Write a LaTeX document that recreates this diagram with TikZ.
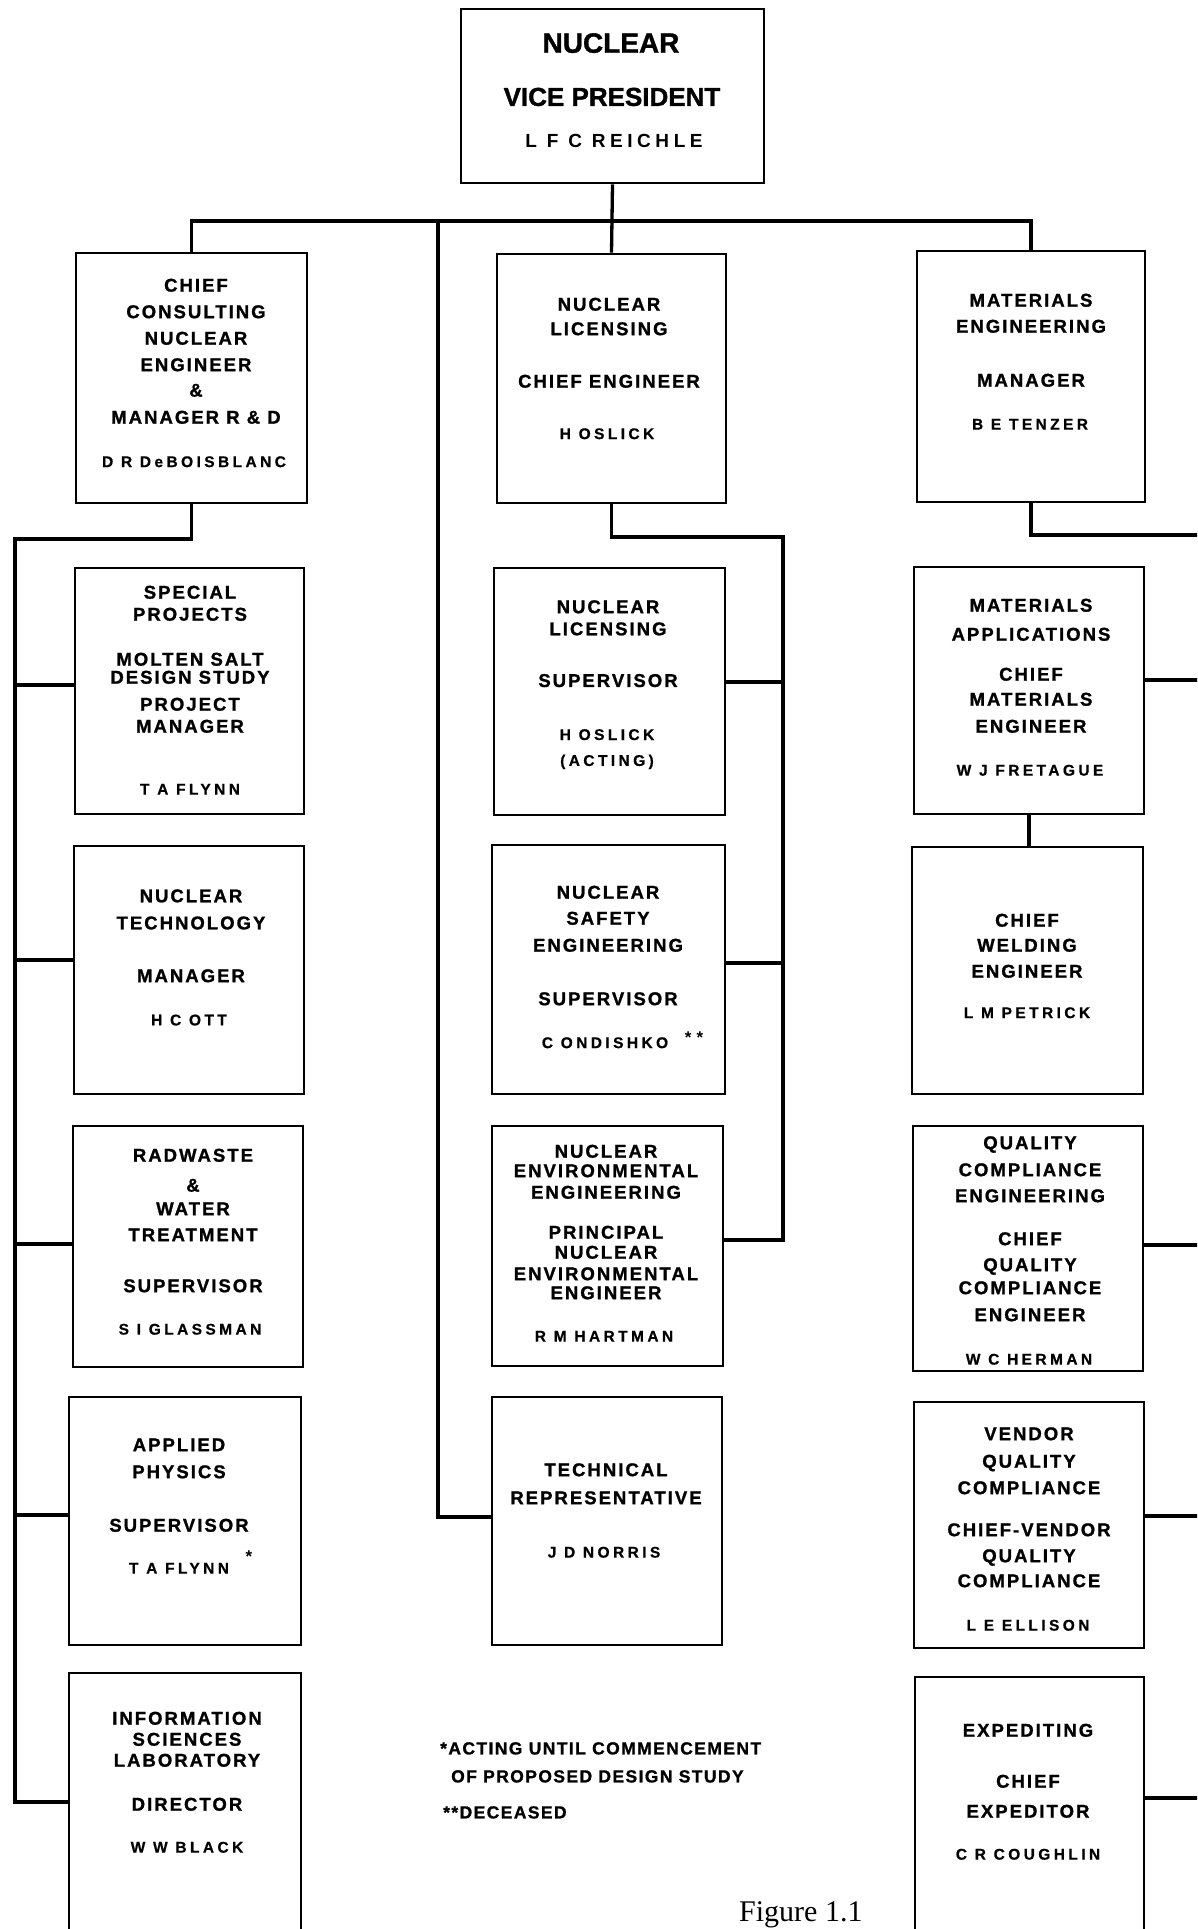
\documentclass[tikz,border=0pt]{standalone}
\usepackage{fontspec}
\setmainfont{Liberation Sans}
\newfontfamily\ttlfam{Liberation Sans}[LetterSpace=11, BoldFeatures={FakeBold=1.2}]
\newfontfamily\nmfam{Liberation Sans}[LetterSpace=22, BoldFeatures={FakeBold=0.6}]
\newfontfamily\ftfam{Liberation Sans}[LetterSpace=8, BoldFeatures={FakeBold=1.0}]
\newfontfamily\vpfam{Liberation Sans}[LetterSpace=24]
\newfontfamily\vpbfam{Liberation Sans}[BoldFeatures={FakeBold=1.2}]
\newfontfamily\figfam{Liberation Serif}
\usetikzlibrary{fit}
\tikzset{
  box/.style={draw, line width=2.7pt, inner sep=0pt},
  conn/.style={line width=3.3pt, line join=miter},
  ttl/.style={font=\ttlfam\bfseries\fontsize{18.5}{22}\selectfont, inner sep=0pt, text height=13.3pt, text depth=0pt},
  nm/.style={font=\nmfam\bfseries\fontsize{15.5}{18}\selectfont, inner sep=0pt, text height=11.2pt, text depth=0pt},
  astr/.style={font=\bfseries\fontsize{17}{20}\selectfont, inner sep=0pt},
  foot/.style={font=\ftfam\bfseries\fontsize{17.5}{20}\selectfont, inner sep=0pt, anchor=west, text height=12.8pt, text depth=0pt},
  vpa/.style={font=\vpbfam\bfseries\fontsize{28}{32}\selectfont, inner sep=0pt, text height=20.5pt, text depth=0pt},
  vpb/.style={font=\vpbfam\bfseries\fontsize{26}{30}\selectfont, inner sep=0pt, text height=18.8pt, text depth=0pt},
  vpc/.style={font=\vpfam\bfseries\fontsize{19}{22}\selectfont, inner sep=0pt, text height=13.7pt, text depth=0pt},
}
\begin{document}
\begin{tikzpicture}[x=1pt,y=-1pt]
\useasboundingbox (0,0) rectangle (1197,1929);
\fill[white] (0,0) rectangle (1197,1929);
\clip (0,0) rectangle (1197,1929);

% ---------- boxes ----------
\node[box, fit={(461,9)(764,183)}] (VP) {};
\node[box, fit={(76,253)(307,503)}] (L1) {};
\node[box, fit={(75,568)(304,814)}] (L2) {};
\node[box, fit={(74,846)(304,1094)}] (L3) {};
\node[box, fit={(73,1126)(303,1367)}] (L4) {};
\node[box, fit={(69,1397)(301,1645)}] (L5) {};
\node[box, fit={(69,1673)(301,1931)}] (L6) {};
\node[box, fit={(497,254)(726,503)}] (C1) {};
\node[box, fit={(494,568)(725,815)}] (C2) {};
\node[box, fit={(492,845)(725,1094)}] (C3) {};
\node[box, fit={(492,1126)(723,1366)}] (C4) {};
\node[box, fit={(492,1397)(722,1645)}] (C5) {};
\node[box, fit={(917,251)(1145,502)}] (R1) {};
\node[box, fit={(914,567)(1144,814)}] (R2) {};
\node[box, fit={(912,847)(1143,1094)}] (R3) {};
\node[box, fit={(913,1126)(1143,1371)}] (R4) {};
\node[box, fit={(914,1402)(1144,1648)}] (R5) {};
\node[box, fit={(915,1677)(1144,1940)}] (R6) {};

% ---------- connectors ----------
\coordinate (bus) at (612,221);
\draw[conn] (VP.south) -- (C1.north);
\draw[conn] (L1.north) -- (L1.north |- bus) -- (R1.north |- bus) -- (R1.north);
\coordinate (tr0) at (438,221);
\coordinate (tr1) at (438,1517);
\draw[conn] (tr0) -- (tr1) -- (tr1 -| C5.west);

\coordinate (sL1) at (15,539);
\coordinate (sL6) at (15,1802);
\draw[conn] (L1.south) -- (L1.south |- sL1) -- (sL1) -- (sL6) -- (sL6 -| L6.west);
\foreach \n/\yy in {L2/685, L3/960, L4/1244, L5/1515}{
  \coordinate (s\n) at (15,\yy);
  \draw[conn] (s\n) -- (s\n -| \n.west);
}

\coordinate (sC1) at (783,537);
\coordinate (sC4) at (783,1240);
\draw[conn] (C1.south) -- (C1.south |- sC1) -- (sC1) -- (sC4) -- (sC4 -| C4.east);
\foreach \n/\yy in {C2/682, C3/963}{
  \coordinate (s\n) at (783,\yy);
  \draw[conn] (s\n) -- (s\n -| \n.east);
}

\coordinate (eR1) at (1200,535);
\draw[conn] (R1.south) -- (R1.south |- eR1) -- (eR1);
\draw[conn] (R2.south) -- (R2.south |- R3.north);
\foreach \n/\yy in {R2/680, R4/1245, R5/1516, R6/1798}{
  \coordinate (e\n) at (1200,\yy);
  \draw[conn] (e\n -| \n.east) -- (e\n);
}

% ---------- texts ----------
\node[vpa] (VP-1) at (611,42.5) {NUCLEAR};
\node[vpb] (VP-2) at (612,96.5) {VICE PRESIDENT};
\node[vpc] (VP-n) at (614,140.5) {L F C REICHLE};

\foreach \yy/\lbl [count=\i] in {285/CHIEF, 311.5/CONSULTING, 338/NUCLEAR, 364.5/ENGINEER, 390/\&, 417/MANAGER R \& D}
  \node[ttl] (L1-\i) at (196,\yy) {\lbl};
\node[nm] (L1-n) at (194,461.5) {D R DeBOISBLANC};

\foreach \yy/\lbl [count=\i] in {592/SPECIAL, 614/PROJECTS, 659/MOLTEN SALT, 677/DESIGN STUDY, 704/PROJECT, 726/MANAGER}
  \node[ttl] (L2-\i) at (190,\yy) {\lbl};
\node[nm] (L2-n) at (190,789) {T A FLYNN};

\foreach \yy/\lbl [count=\i] in {895.6/NUCLEAR, 922.7/TECHNOLOGY, 975.5/MANAGER}
  \node[ttl] (L3-\i) at (191,\yy) {\lbl};
\node[nm] (L3-n) at (189,1019.8) {H C OTT};

\foreach \yy/\lbl [count=\i] in {1155/RADWASTE, 1185/\&, 1208.5/WATER, 1234.5/TREATMENT, 1285.5/SUPERVISOR}
  \node[ttl] (L4-\i) at (193,\yy) {\lbl};
\node[nm] (L4-n) at (190,1329) {S I GLASSMAN};

\foreach \yy/\lbl [count=\i] in {1444.5/APPLIED, 1471.5/PHYSICS, 1525/SUPERVISOR}
  \node[ttl] (L5-\i) at (179,\yy) {\lbl};
\node[nm] (L5-n) at (179,1568) {T A FLYNN};
\node[astr] (L5-s) at (249,1557) {*};

\foreach \yy/\lbl [count=\i] in {1718/INFORMATION, 1739/SCIENCES, 1760/LABORATORY, 1804/DIRECTOR}
  \node[ttl] (L6-\i) at (187,\yy) {\lbl};
\node[nm] (L6-n) at (187,1847) {W W BLACK};

\foreach \yy/\lbl [count=\i] in {304/NUCLEAR, 328.5/LICENSING, 381/CHIEF ENGINEER}
  \node[ttl] (C1-\i) at (609,\yy) {\lbl};
\node[nm] (C1-n) at (607,433.5) {H OSLICK};

\foreach \yy/\lbl [count=\i] in {606.5/NUCLEAR, 628.6/LICENSING, 680.3/SUPERVISOR}
  \node[ttl] (C2-\i) at (608,\yy) {\lbl};
\node[nm] (C2-n) at (607,734.4) {H OSLICK};
\node[nm] (C2-m) at (607,760.3) {(ACTING)};

\foreach \yy/\lbl [count=\i] in {892/NUCLEAR, 918/SAFETY, 945/ENGINEERING, 998.5/SUPERVISOR}
  \node[ttl] (C3-\i) at (608,\yy) {\lbl};
\node[nm] (C3-n) at (605,1042.5) {C ONDISHKO};
\node[astr] (C3-s) at (694,1038) {*\kern5pt*};

\foreach \yy/\lbl [count=\i] in {1151/NUCLEAR, 1170.5/ENVIRONMENTAL, 1192/ENGINEERING, 1232/PRINCIPAL, 1252/NUCLEAR, 1273.5/ENVIRONMENTAL, 1292.5/ENGINEER}
  \node[ttl] (C4-\i) at (606,\yy) {\lbl};
\node[nm] (C4-n) at (604,1336) {R M HARTMAN};

\foreach \yy/\lbl [count=\i] in {1469.5/TECHNICAL, 1497.5/REPRESENTATIVE}
  \node[ttl] (C5-\i) at (606,\yy) {\lbl};
\node[nm] (C5-n) at (604,1552) {J D NORRIS};

\foreach \yy/\lbl [count=\i] in {300/MATERIALS, 326/ENGINEERING, 380/MANAGER}
  \node[ttl] (R1-\i) at (1031,\yy) {\lbl};
\node[nm] (R1-n) at (1030,424) {B E TENZER};

\foreach \yy/\lbl [count=\i] in {605/MATERIALS, 634/APPLICATIONS, 674/CHIEF, 699/MATERIALS, 726/ENGINEER}
  \node[ttl] (R2-\i) at (1031,\yy) {\lbl};
\node[nm] (R2-n) at (1030,770) {W J FRETAGUE};

\foreach \yy/\lbl [count=\i] in {920/CHIEF, 945/WELDING, 971/ENGINEER}
  \node[ttl] (R3-\i) at (1027,\yy) {\lbl};
\node[nm] (R3-n) at (1027,1012.5) {L M PETRICK};

\foreach \yy/\lbl [count=\i] in {1142.5/QUALITY, 1169.5/COMPLIANCE, 1195.5/ENGINEERING, 1238.5/CHIEF, 1264.5/QUALITY, 1287.5/COMPLIANCE, 1314.5/ENGINEER}
  \node[ttl] (R4-\i) at (1030,\yy) {\lbl};
\node[nm] (R4-n) at (1029,1359) {W C HERMAN};

\foreach \yy/\lbl [count=\i] in {1433.5/VENDOR, 1461/QUALITY, 1487.5/COMPLIANCE, 1529.5/CHIEF-VENDOR, 1555.5/QUALITY, 1580.5/COMPLIANCE}
  \node[ttl] (R5-\i) at (1029,\yy) {\lbl};
\node[nm] (R5-n) at (1028,1625) {L E ELLISON};

\foreach \yy/\lbl [count=\i] in {1730/EXPEDITING, 1781/CHIEF, 1811/EXPEDITOR}
  \node[ttl] (R6-\i) at (1028,\yy) {\lbl};
\node[nm] (R6-n) at (1028,1854) {C R COUGHLIN};

% ---------- footnotes ----------
\node[foot] (fn1) at (440,1748) {*ACTING UNTIL COMMENCEMENT};
\node[foot] (fn2) at (451,1776) {OF PROPOSED DESIGN STUDY};
\node[foot] (fn3) at (443,1812) {**DECEASED};
\node[font=\figfam\fontsize{30}{34}\selectfont, inner sep=0pt, anchor=base west] (fig) at (739,1921) {Figure 1.1};
\end{tikzpicture}
\end{document}
